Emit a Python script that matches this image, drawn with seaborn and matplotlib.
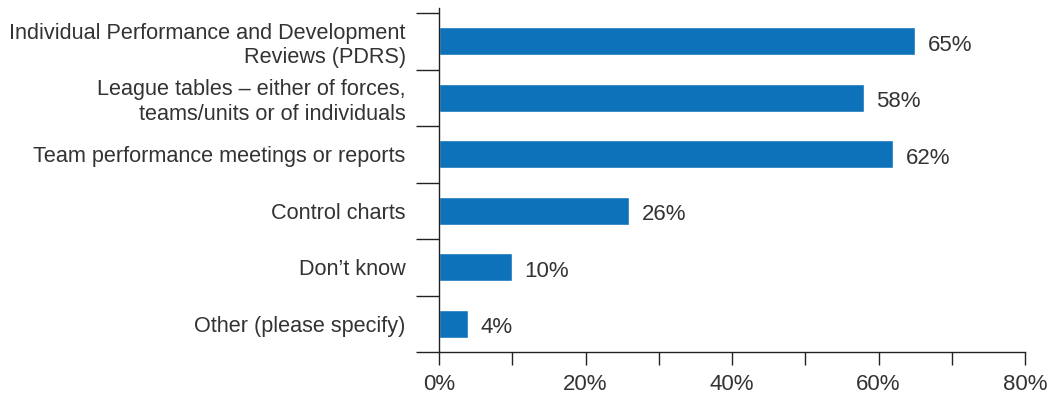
import matplotlib
matplotlib.use("Agg")
import matplotlib.pyplot as plt
import seaborn as sns
import pandas as pd
import numpy as np
from matplotlib.ticker import MultipleLocator, FixedLocator, PercentFormatter

categories = [
    "Individual Performance and Development\nReviews (PDRS)",
    "League tables \u2013 either of forces,\nteams/units or of individuals",
    "Team performance meetings or reports",
    "Control charts",
    "Don\u2019t know",
    "Other (please specify)",
]
values = [65, 58, 62, 26, 10, 4]

bar_color = "#0E72BA"
text_color = "#333333"

sns.set_theme(style="white")
plt.rcParams["font.family"] = ["Liberation Sans", "DejaVu Sans"]

df = pd.DataFrame({"category": categories, "value": values})

fig = plt.figure(figsize=(10.49, 4.01), dpi=100)
ax = fig.add_axes([439 / 1049, 1 - 352 / 401, (1025 - 439) / 1049, (352 - 8) / 401])

sns.barplot(data=df, y="category", x="value", orient="h", color=bar_color,
            width=0.5, saturation=1, ax=ax)

ax.set_xlim(0, 80)
ax.set_ylim(len(categories) - 0.5, -0.59)

# value labels at bar ends
for i, v in enumerate(values):
    ax.text(v + 1.7, i + 0.07, f"{v}%", va="center", ha="left",
            fontsize=16, color=text_color)

# x axis: labelled every 20%, ticks every 10%
ax.xaxis.set_major_locator(MultipleLocator(20))
ax.xaxis.set_minor_locator(MultipleLocator(10))
ax.xaxis.set_major_formatter(PercentFormatter(decimals=0))
ax.tick_params(axis="x", which="both", direction="out", length=9.5, width=1,
               color="#222222", bottom=True, labelsize=16, labelcolor=text_color, pad=6)

# y axis: separators between categories, no ticks at labels
ax.yaxis.set_minor_locator(FixedLocator(np.arange(-0.5, len(categories), 1.0)))
ax.tick_params(axis="y", which="major", length=0, labelsize=15.6,
               labelcolor=text_color, pad=24)
ax.tick_params(axis="y", which="minor", direction="out", length=16.5, width=1,
               color="#222222", left=True)
for lab in ax.get_yticklabels():
    lab.set_horizontalalignment("right")
    lab.set_multialignment("right")

ax.set_xlabel("")
ax.set_ylabel("")
for side in ["top", "right"]:
    ax.spines[side].set_visible(False)
for side in ["left", "bottom"]:
    ax.spines[side].set_color("#222222")
    ax.spines[side].set_linewidth(1)

fig.savefig("out.png", dpi=100)
